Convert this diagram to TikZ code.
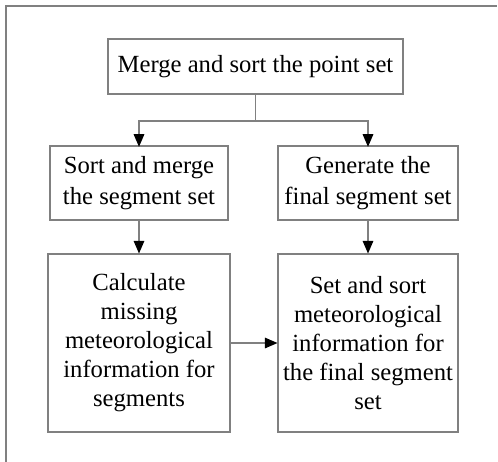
\documentclass[tikz,border=0pt]{standalone}
\usepackage{fontspec}
\setmainfont{Liberation Serif}
\usetikzlibrary{arrows.meta}
\begin{document}
\begin{tikzpicture}[x=0.75pt,y=-0.75pt,
  box/.style={draw=black!50, line width=0.8pt, align=center, inner sep=0pt,
    font=\fontsize{18.5pt}{21.75pt}\selectfont, text=black},
  widebox/.style={box, font=\fontsize{18.5pt}{23.5pt}\selectfont},
  conn/.style={draw=black!50, line width=0.8pt},
  arr/.style={conn, -{Triangle[length=9.5pt,width=8pt,fill=black,color=black]}},
  frame/.style={draw=black!50, line width=1.5pt}]
\useasboundingbox (0,0) rectangle (498,461);
\draw[frame] (6,470) -- (6,5.5) -- (497,5.5);
\node[box, minimum width=295*0.75pt, minimum height=55*0.75pt] (top) at (255.5,66.5) {Merge and sort the point set};
\node[widebox, minimum width=178*0.75pt, minimum height=74*0.75pt] (ml) at (139,183) {Sort and merge\\the segment set};
\node[widebox, minimum width=180*0.75pt, minimum height=74*0.75pt] (mr) at (368,183) {Generate the\\final segment set};
\node[box, minimum width=182*0.75pt, minimum height=178*0.75pt] (bl) at (139,343) {Calculate\\missing\\meteorological\\information for\\segments};
\node[box, minimum width=180*0.75pt, minimum height=178*0.75pt] (br) at (368,343) {Set and sort\\meteorological\\information for\\the final segment\\set};
\coordinate (split) at (255.5,121);
\draw[conn] (top.south) -- (split);
\draw[arr] (split) -| ([yshift=-1pt]ml.north);
\draw[arr] (split) -| ([yshift=-1pt]mr.north);
\draw[arr] (ml.south) -- (bl.north -| ml.south);
\draw[arr] (mr.south) -- (br.north -| mr.south);
\draw[arr] (bl.east) -- (br.west);
\end{tikzpicture}
\end{document}
